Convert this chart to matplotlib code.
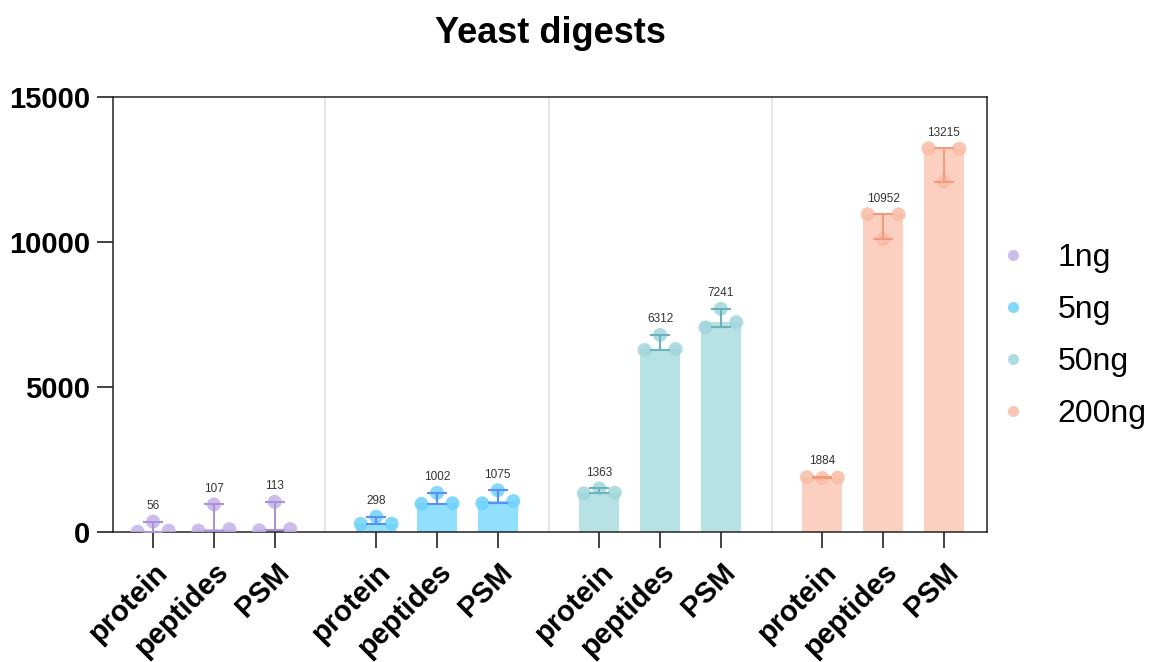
import numpy as np
import matplotlib.pyplot as plt
from matplotlib.lines import Line2D

plt.rcParams['font.family'] = ['Liberation Sans', 'DejaVu Sans']

# data
groups = ['1ng', '5ng', '50ng', '200ng']
metrics = ['protein', 'peptides', 'PSM']

# bar value (shown on top of each bar)
bar_values = [
    [56, 107, 113],
    [298, 1002, 1075],
    [1363, 6312, 7241],
    [1884, 10952, 13215],
]

# replicate points
points_1ng = [[20, 56, 370], [60, 107, 960], [70, 113, 1050]]
points_5ng = [[290, 298, 536], [980, 1002, 1360], [1000, 1075, 1450]]
points_50ng = [[1340, 1363, 1510], [6280, 6312, 6800], [7060, 7241, 7700]]
points_200ng = [[1870, 1884, 1900], [10100, 10952, 10960], [12080, 13215, 13230]]
all_points = [points_1ng, points_5ng, points_50ng, points_200ng]

bar_colors = ['#d6cbef', '#8fdffd', '#b7e2e5', '#fcd0c0']
dot_colors = ['#c3b2e8', '#6fd2fa', '#a0d6db', '#f9bca6']
err_colors = ['#a892d8', '#5b8ff3', '#6cb2ba', '#f39c7c']

group_step = 3.67
bar_w = 0.66
dot_d = 14.0     # marker diameter in pixels
dot_step = 15.5  # horizontal spread in pixels

fig = plt.figure(figsize=(11.5, 6.62), dpi=100)
ax = fig.add_axes([0.0983, 0.1959, 0.76, 0.6576])
ax.set_xlim(-0.66, 3 * group_step + 2 + 0.71)
ax.set_ylim(0, 15000)


def spread(vals, xc):
    # column scatter: near-equal top pair goes to the sides, else top in the middle
    trans = ax.transData
    py = [trans.transform((xc, v))[1] for v in vals]
    order = sorted(range(len(vals)), key=lambda k: -vals[k])
    offs = [0] * len(vals)
    if abs(py[order[0]] - py[order[1]]) < 3:
        offs[order[0]], offs[order[1]], offs[order[2]] = -1, 1, 0
    else:
        offs[order[0]], offs[order[2]], offs[order[1]] = 0, -1, 1
    px0 = trans.transform((xc, 0))[0]
    return [trans.inverted().transform((px0 + o * dot_step, 0))[0] for o in offs]


xticks = []
xlabels = []
for g in range(len(groups)):
    for i in range(len(metrics)):
        x = g * group_step + i
        xticks.append(x)
        xlabels.append(metrics[i])
        v = bar_values[g][i]
        pts = all_points[g][i]
        ax.bar(x, v, width=bar_w, color=bar_colors[g], zorder=2)
        xs = spread(pts, x)
        ax.scatter(xs, pts, s=(dot_d * 0.72) ** 2, color=dot_colors[g], alpha=0.85,
                   edgecolors='none', zorder=3)
        ax.errorbar(x, v, yerr=[[v - min(pts)], [max(pts) - v]], fmt='none',
                    ecolor=err_colors[g], elinewidth=1.5, capsize=7, capthick=1.5, zorder=4)
        ax.annotate(str(v), (x, max(pts)), xytext=(0, 7), textcoords='offset points',
                    ha='center', va='bottom', fontsize=8.5, color='#333333', zorder=5)

# light separators between groups
for g in range(len(groups) - 1):
    ax.axvline(g * group_step + 2 + (group_step - 2) / 2, color='#e4e4e4', lw=1.2, zorder=1)

ax.set_xticks(xticks)
ax.set_xticklabels(xlabels, rotation=45, ha='right', rotation_mode='anchor',
                   fontsize=21, fontweight='bold')
ax.set_yticks([0, 5000, 10000, 15000])
ax.set_yticklabels(['0', '5000', '10000', '15000'], fontsize=21, fontweight='bold')
ax.tick_params(axis='both', length=11.5, width=1.2, color='#222222', pad=5)
ax.tick_params(axis='x', pad=7)
for s in ax.spines.values():
    s.set_linewidth(1.1)
    s.set_color('#222222')

fig.text(0.4783, 0.935, 'Yeast digests', ha='center', va='baseline',
         fontsize=26, fontweight='bold')

handles = [Line2D([], [], marker='o', ls='none', markersize=8, color=dot_colors[g],
                  alpha=0.85, markeredgewidth=0) for g in range(len(groups))]
ax.legend(handles, groups, loc='center left', bbox_to_anchor=(1.0, 0.45), frameon=False,
          fontsize=23, handlelength=0.8, handletextpad=1.0, borderaxespad=0, labelspacing=0.69)

fig.savefig('out.png', dpi=100)
